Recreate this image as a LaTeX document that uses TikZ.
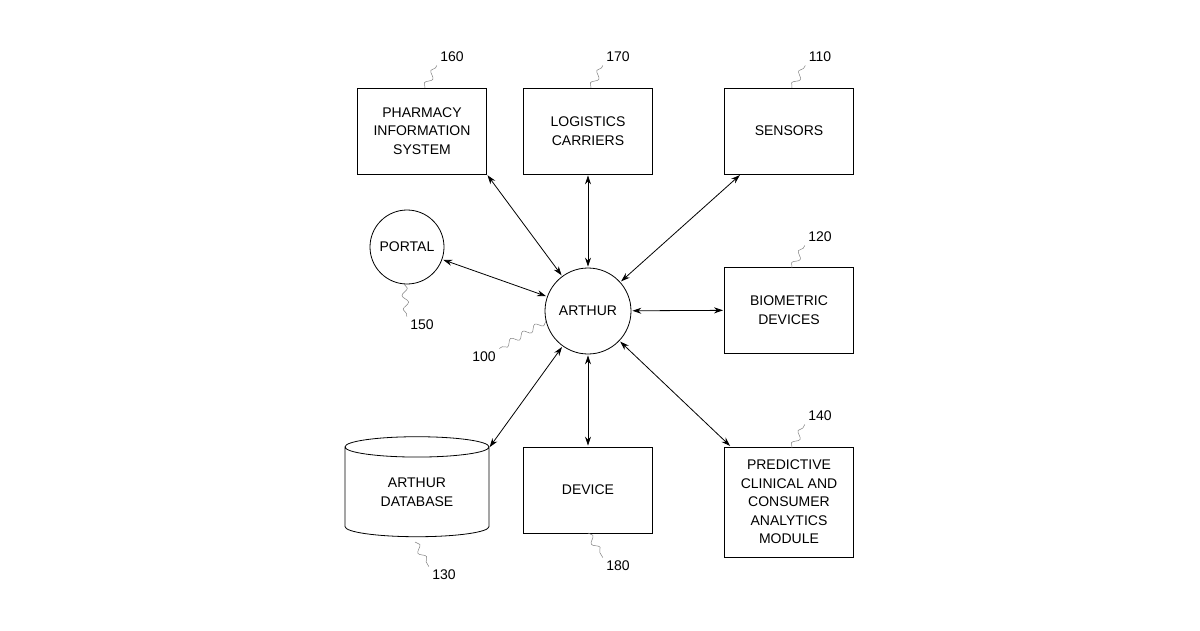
\documentclass[tikz,border=0pt]{standalone}
\usepackage{fontspec}
\setmainfont{Liberation Sans}
\usetikzlibrary{shapes.geometric,arrows.meta,decorations.pathmorphing}
\begin{document}
\begin{tikzpicture}[x=1pt,y=-1pt,
  box/.style={draw,line width=0.8pt,minimum width=129pt,minimum height=86pt,align=center,font=\fontsize{14}{18.5}\selectfont,inner sep=0pt},
  circ/.style={draw,circle,line width=0.8pt,font=\fontsize{14}{17}\selectfont,inner sep=0pt},
  lab/.style={font=\fontsize{14}{17}\selectfont},
  arr/.style={line width=0.8pt,{Stealth[length=9pt,width=6pt]}-{Stealth[length=9pt,width=6pt]},shorten <=1pt,shorten >=1pt},
  sq/.style={line width=0.5pt,gray,decorate,decoration={snake,segment length=14pt,amplitude=3pt}}]
\useasboundingbox (0,0) rectangle (1200,630);
\node[box] (ph) at (422,131) {PHARMACY\\INFORMATION\\SYSTEM};
\node[box] (lo) at (588,131) {LOGISTICS\\CARRIERS};
\node[box] (se) at (789,131) {SENSORS};
\node[box] (bi) at (789,310) {BIOMETRIC\\DEVICES};
\node[box,minimum height=110pt] (pr) at (789,502) {PREDICTIVE\\CLINICAL AND\\CONSUMER\\ANALYTICS\\MODULE};
\node[box] (de) at (588,490) {DEVICE};
\node[draw,cylinder,shape border rotate=90,aspect=0.28,line width=0.8pt,minimum width=144pt,minimum height=100pt,align=center,font=\fontsize{14}{18.5}\selectfont,inner sep=0pt] (db) at (417,492) {ARTHUR\\DATABASE};
\node[circ,minimum size=74pt] (po) at (407,247) {PORTAL};
\node[circ,minimum size=86pt] (ar) at (588,311) {ARTHUR};
\coordinate (dbc) at (489,448);
\foreach \n in {lo,se,bi,pr,de,po} \draw[arr] (\n) -- (ar);
\draw[arr] (ph.south east) -- (ar);
\draw[arr] (dbc) -- (ar);
\node[lab] (l160) at (452,57) {160};
\node[lab] (l170) at (618,57) {170};
\node[lab] (l110) at (820,57) {110};
\node[lab] (l120) at (820,237) {120};
\node[lab] (l140) at (820,416) {140};
\node[lab] (l150) at (422,325) {150};
\node[lab] (l100) at (484,357) {100};
\node[lab] (l130) at (444,575) {130};
\node[lab] (l180) at (618,566) {180};
\draw[sq] (425,88) -- (l160.south west);
\draw[sq] (591,88) -- (l170.south west);
\draw[sq] (792,88) -- (l110.south west);
\draw[sq] (792,268) -- (l120.south west);
\draw[sq] (792,448) -- (l140.south west);
\draw[sq] (404,284) -- (l150.north west);
\draw[sq] (546,321) -- (l100.north east);
\draw[sq] (415,542) -- (l130.north west);
\draw[sq] (588,533) -- (l180.north west);
\end{tikzpicture}
\end{document}
